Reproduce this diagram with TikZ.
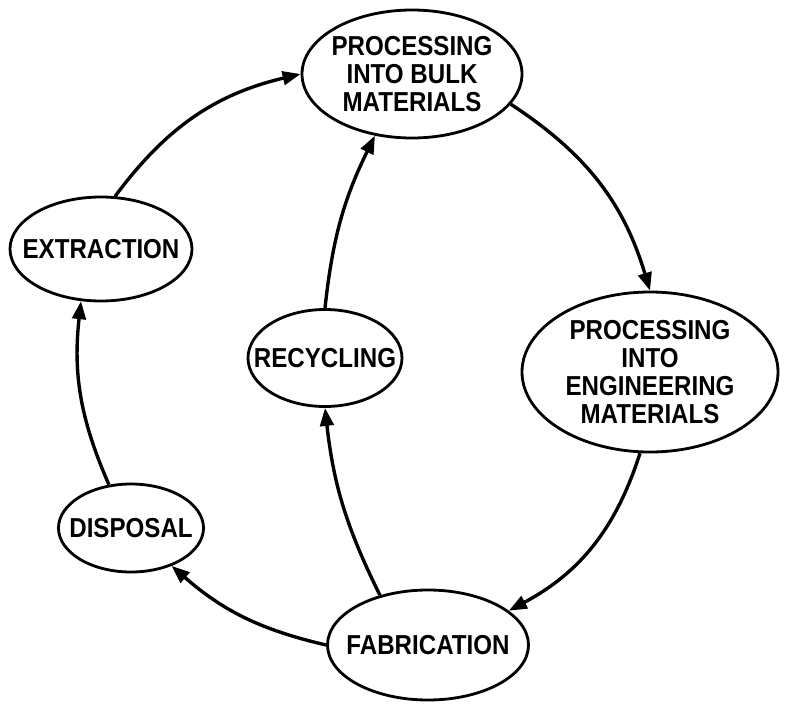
\documentclass[tikz,border=0pt]{standalone}
\usepackage{fontspec}
\setmainfont{Liberation Sans}[FakeStretch=0.88]
\usetikzlibrary{shapes.geometric,arrows.meta}

\begin{document}
\begin{tikzpicture}[x=0.25mm, y=-0.25mm,
    stage/.style={draw, ellipse, line width=2pt, inner sep=0pt},
    word/.style={font=\fontsize{19.5}{20}\selectfont\bfseries, align=center},
    flow/.style={line width=2.4pt, -{Triangle[length=4.5mm, width=3.4mm]}}]
      \useasboundingbox (0,0) rectangle (785,704);

      % Stages
      \node[stage, minimum width=55mm, minimum height=32mm,
        label={[word]center:PROCESSING\\INTO BULK\\MATERIALS}] (bulk) at (412,74) {};
      \node[stage, minimum width=45.5mm, minimum height=26mm,
        label={[word]center:EXTRACTION}] (extr) at (101,249) {};
      \node[stage, minimum width=64mm, minimum height=40mm,
        label={[word]center:PROCESSING\\INTO\\ENGINEERING\\MATERIALS}] (eng) at (650,372) {};
      \node[stage, minimum width=38.5mm, minimum height=24.25mm,
        label={[word]center:RECYCLING}] (recyc) at (325,358) {};
      \node[stage, minimum width=36.25mm, minimum height=22mm,
        label={[word]center:DISPOSAL}] (disp) at (131,528) {};
      \node[stage, minimum width=50.25mm, minimum height=27.5mm,
        label={[word]center:FABRICATION}] (fab) at (428,645) {};

      % The cycle
      \draw[flow] (extr.75) to[bend left=20] (bulk.west);
      \draw[flow] (bulk.-17) to[bend left=20] (eng.north);
      \draw[flow] (eng.-97) to[bend left=22] (fab.23);
      \draw[flow] (fab.west) to[bend left=14] (disp.-43);
      \draw[flow] (disp.117) to[bend left=15] (extr.-111);
      \draw[flow] (fab.134) to[bend left=10] (recyc.south);
      \draw[flow] (recyc.north) to[bend left=10] (bulk.-121);
    \end{tikzpicture}
\end{document}
